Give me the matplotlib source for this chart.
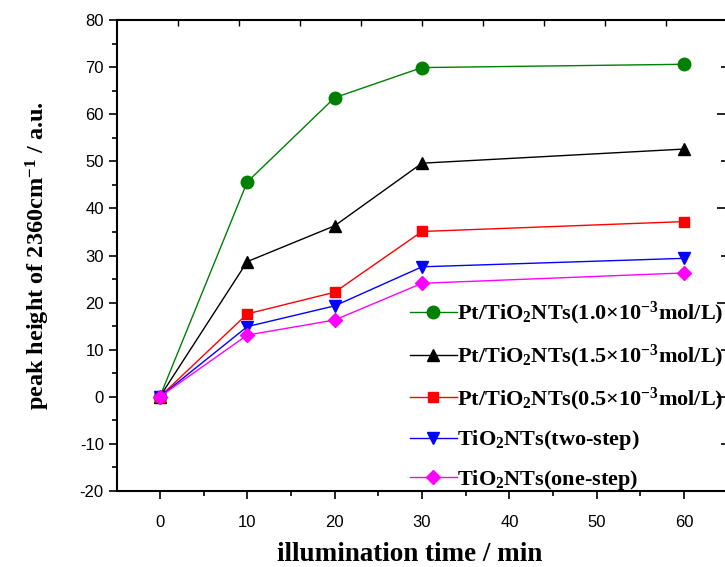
import matplotlib
matplotlib.use("Agg")
import matplotlib.pyplot as plt
from matplotlib.ticker import MultipleLocator, NullFormatter

time_min = [0, 10, 20, 30, 60]
pt_10 = [0, 45.6, 63.5, 69.9, 70.6]
pt_15 = [0, 28.7, 36.3, 49.6, 52.6]
pt_05 = [0, 17.6, 22.2, 35.1, 37.2]
two_step = [0, 14.9, 19.3, 27.6, 29.4]
one_step = [0, 13.1, 16.3, 24.1, 26.3]

labels = [
    r"Pt/TiO$_2$NTs(1.0×10$^{-3}$mol/L)",
    r"Pt/TiO$_2$NTs(1.5×10$^{-3}$mol/L)",
    r"Pt/TiO$_2$NTs(0.5×10$^{-3}$mol/L)",
    r"TiO$_2$NTs(two-step)",
    r"TiO$_2$NTs(one-step)",
]
xticks = [0, 10, 20, 30, 40, 50, 60]
yticks = [-20, -10, 0, 10, 20, 30, 40, 50, 60, 70, 80]

plt.rcParams["mathtext.fontset"] = "custom"
plt.rcParams["mathtext.rm"] = "Liberation Serif:bold"
plt.rcParams["mathtext.it"] = "Liberation Serif:bold"
plt.rcParams["mathtext.bf"] = "Liberation Serif:bold"
plt.rcParams["axes.unicode_minus"] = False

fig = plt.figure(figsize=(7.25, 5.67), dpi=100)
ax = fig.add_axes([117/725, 1-491/567, 610/725, 471/567])

series = [
    (pt_10, "#008000", "o", 9),
    (pt_15, "black", "^", 9),
    (pt_05, "red", "s", 7.5),
    (two_step, "blue", "v", 9),
    (one_step, "magenta", "D", 7.5),
]
for (vals, c, m, ms), lab in zip(series, labels):
    ax.plot(time_min, vals, color=c, marker=m, markersize=ms, lw=1.0,
            label=lab, markeredgecolor=c)

ax.set_xlim(-4.9, 64.9)
ax.set_ylim(-20, 80)
ax.set_xticks(xticks)
ax.set_yticks(yticks)
ax.xaxis.set_minor_locator(MultipleLocator(5))
ax.yaxis.set_minor_locator(MultipleLocator(5))
ax.tick_params(which="major", direction="out", length=6, width=1.2,
               labelsize=12, top=False, right=False)
ax.tick_params(axis="x", which="major", pad=11)
ax.tick_params(which="minor", direction="out", length=3.5, width=1.2,
               top=False, right=False)
for lab in ax.get_xticklabels() + ax.get_yticklabels():
    lab.set_fontfamily("Liberation Sans")
for s in ax.spines.values():
    s.set_linewidth(1.5)

# top and right inward ticks
axt = ax.twiny()
axt.set_xlim(0, 10)
axt.set_xticks(range(1, 10))
axt.xaxis.set_major_formatter(NullFormatter())
axt.tick_params(axis="x", direction="in", length=4, width=1.0)
axr = ax.twinx()
axr.set_ylim(-20, 80)
axr.yaxis.set_major_locator(MultipleLocator(20))
axr.yaxis.set_minor_locator(MultipleLocator(10))
axr.yaxis.set_major_formatter(NullFormatter())
axr.tick_params(axis="y", which="major", direction="in", length=7, width=1.2)
axr.tick_params(axis="y", which="minor", direction="in", length=4, width=1.2)
for a in (axt, axr):
    for s in a.spines.values():
        s.set_visible(False)

ax.set_xlabel("illumination time / min", fontfamily="Liberation Serif",
              fontweight="bold", fontsize=19.5)
ax.xaxis.set_label_coords((410 - 117) / 610, -0.108)
ax.set_ylabel(r"peak height of 2360cm$^{-1}$ / a.u.", fontfamily="Liberation Serif",
              fontweight="bold", fontsize=17.5, labelpad=20)

leg = ax.legend(loc="upper left", bbox_to_anchor=(410/725, 1-300/567),
                bbox_transform=fig.transFigure, frameon=False,
                prop={"family": "Liberation Serif", "weight": "bold", "size": 16},
                handlelength=2.1, handletextpad=0.0, labelspacing=0.7,
                borderaxespad=0, borderpad=0)
ax.set_zorder(axr.get_zorder() + 1)
ax.patch.set_visible(False)

fig.savefig("out.png", dpi=100)
